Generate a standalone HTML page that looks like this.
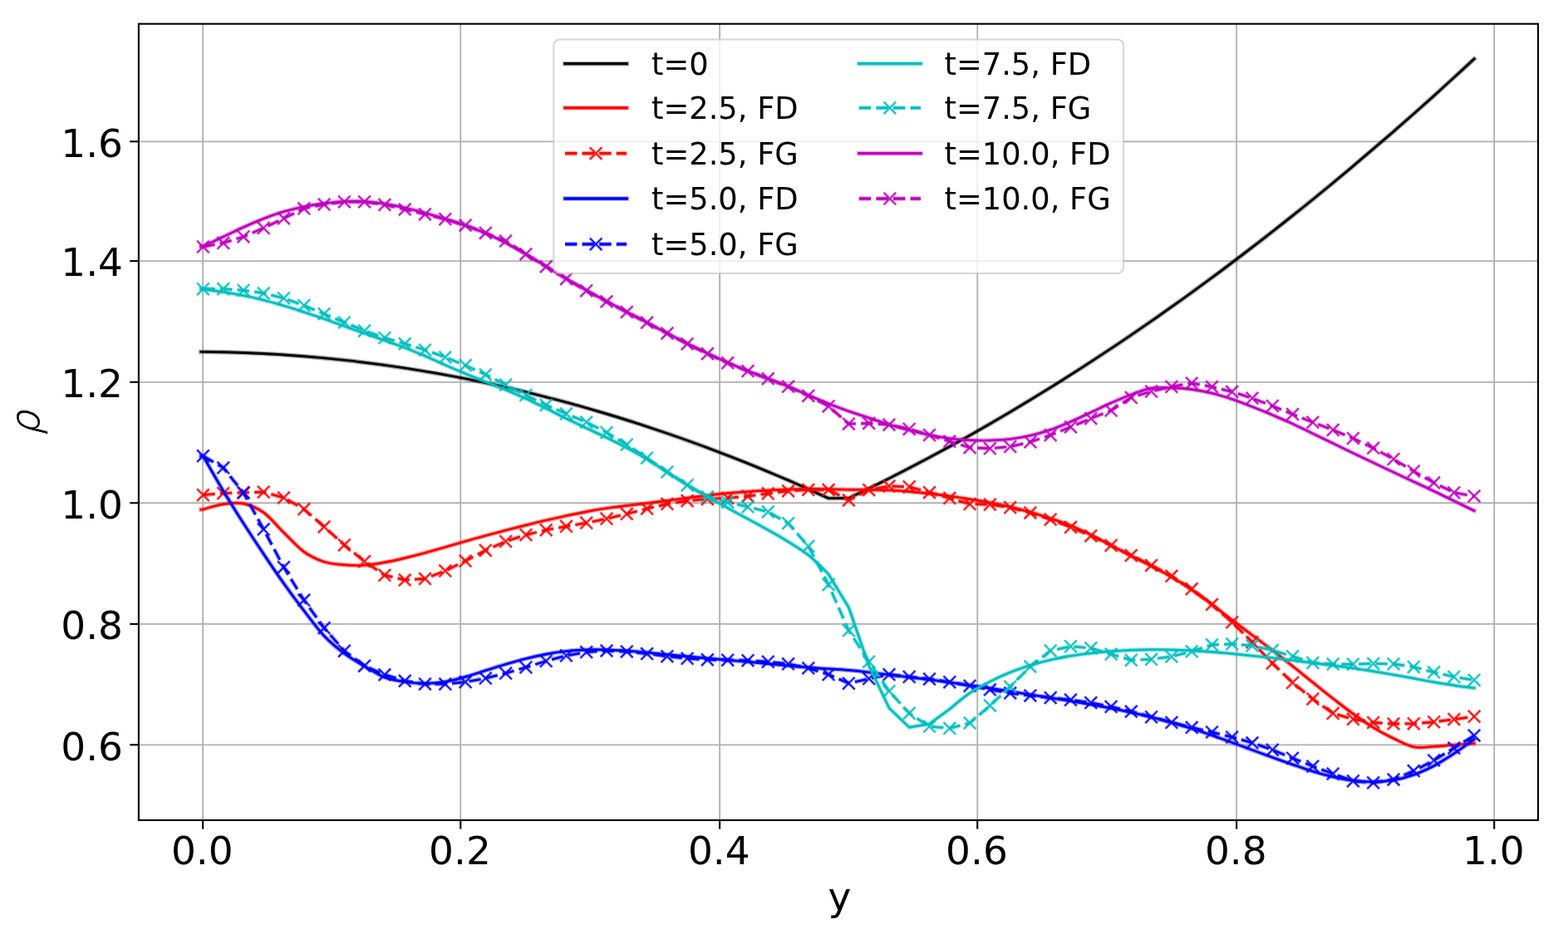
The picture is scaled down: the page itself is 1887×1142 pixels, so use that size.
<!DOCTYPE html>
<html lang="en"><head><meta charset="utf-8"><title>rho vs y</title>
<style>html,body{margin:0;padding:0;background:#fff;}body{width:1887px;height:1142px;overflow:hidden;}svg{display:block;font-family:"DejaVu Sans","Liberation Sans",sans-serif;}</style>
</head><body>
<svg width="1887" height="1142" viewBox="0 0 1887 1142">
<rect x="0" y="0" width="1887" height="1142" fill="#ffffff"/>
<defs>
<g id="mx" fill="none" stroke-linecap="butt"><path d="M-7.30 -7.30 L7.30 7.30 M-7.30 7.30 L7.30 -7.30" stroke-width="3.8" stroke-opacity="0.33"/><path d="M-7.30 -7.30 L7.30 7.30 M-7.30 7.30 L7.30 -7.30" stroke-width="1.6"/></g>
<clipPath id="axclip"><rect x="166.9" y="28.7" width="1684.1" height="958.3"/></clipPath>
</defs>
<g stroke="#b0b0b0" stroke-width="1.8" fill="none">
<line x1="244.12" y1="28.7" x2="244.12" y2="987.0"/>
<line x1="554.25" y1="28.7" x2="554.25" y2="987.0"/>
<line x1="866.12" y1="28.7" x2="866.12" y2="987.0"/>
<line x1="1176.25" y1="28.7" x2="1176.25" y2="987.0"/>
<line x1="1488.12" y1="28.7" x2="1488.12" y2="987.0"/>
<line x1="1798.20" y1="28.7" x2="1798.20" y2="987.0"/>
<line x1="166.9" y1="896.30" x2="1851.0" y2="896.30"/>
<line x1="166.9" y1="750.90" x2="1851.0" y2="750.90"/>
<line x1="166.9" y1="605.25" x2="1851.0" y2="605.25"/>
<line x1="166.9" y1="459.80" x2="1851.0" y2="459.80"/>
<line x1="166.9" y1="314.10" x2="1851.0" y2="314.10"/>
<line x1="166.9" y1="170.30" x2="1851.0" y2="170.30"/>
</g>
<g stroke="#000" stroke-width="2.1" fill="none">
<line x1="244.12" y1="987.0" x2="244.12" y2="997.65"/>
<line x1="554.25" y1="987.0" x2="554.25" y2="997.65"/>
<line x1="866.12" y1="987.0" x2="866.12" y2="997.65"/>
<line x1="1176.25" y1="987.0" x2="1176.25" y2="997.65"/>
<line x1="1488.12" y1="987.0" x2="1488.12" y2="997.65"/>
<line x1="1798.20" y1="987.0" x2="1798.20" y2="997.65"/>
<line x1="156.25" y1="896.30" x2="166.9" y2="896.30"/>
<line x1="156.25" y1="750.90" x2="166.9" y2="750.90"/>
<line x1="156.25" y1="605.25" x2="166.9" y2="605.25"/>
<line x1="156.25" y1="459.80" x2="166.9" y2="459.80"/>
<line x1="156.25" y1="314.10" x2="166.9" y2="314.10"/>
<line x1="156.25" y1="170.30" x2="166.9" y2="170.30"/>
</g>
<g clip-path="url(#axclip)" fill="none" stroke-linejoin="round">
<path d="M241.9 423.4 L244.4 423.4 C244.4 423.4 260.6 423.6 268.7 423.8 C276.8 423.9 284.9 424.2 293.0 424.5 C301.1 424.8 309.1 425.1 317.2 425.5 C325.3 426.0 333.4 426.4 341.5 427.0 C349.6 427.5 357.7 428.1 365.8 428.7 C373.9 429.4 382.0 430.1 390.1 430.9 C398.2 431.6 406.3 432.5 414.4 433.4 C422.5 434.2 430.6 435.2 438.6 436.2 C446.7 437.2 454.8 438.3 462.9 439.4 C471.0 440.5 479.1 441.7 487.2 442.9 C495.3 444.2 503.4 445.5 511.5 446.9 C519.6 448.2 527.7 449.6 535.8 451.1 C543.9 452.6 552.0 454.1 560.1 455.7 C568.1 457.3 576.2 459.0 584.3 460.7 C592.4 462.4 600.5 464.2 608.6 466.0 C616.7 467.9 624.8 469.8 632.9 471.7 C641.0 473.7 649.1 475.7 657.2 477.8 C665.3 479.8 673.4 482.0 681.5 484.2 C689.6 486.3 697.6 488.6 705.7 490.9 C713.8 493.2 721.9 495.6 730.0 498.0 C738.1 500.4 746.2 502.9 754.3 505.5 C762.4 508.0 770.5 510.6 778.6 513.3 C786.7 516.0 794.8 518.7 802.9 521.5 C811.0 524.2 819.1 527.1 827.1 530.0 C835.2 532.9 843.3 535.8 851.4 538.9 C859.5 541.9 867.6 545.0 875.7 548.1 C883.8 551.2 891.9 554.4 900.0 557.7 C908.1 561.0 916.2 564.3 924.3 567.6 C932.4 571.0 940.5 574.5 948.6 577.9 C956.6 581.4 972.8 588.6 972.8 588.6 L997.1 599.6 L1021.4 599.5 L1045.7 587.8 C1045.7 587.8 1061.9 579.8 1070.0 575.7 C1078.1 571.6 1086.2 567.5 1094.2 563.3 C1102.3 559.1 1110.4 554.8 1118.5 550.5 C1126.6 546.2 1134.7 541.8 1142.8 537.4 C1150.9 532.9 1159.0 528.4 1167.1 523.9 C1175.2 519.3 1183.3 514.7 1191.4 510.0 C1199.5 505.3 1207.6 500.6 1215.7 495.8 C1223.7 491.0 1231.8 486.1 1239.9 481.2 C1248.0 476.3 1256.1 471.3 1264.2 466.3 C1272.3 461.3 1280.4 456.2 1288.5 451.0 C1296.6 445.9 1304.7 440.7 1312.8 435.4 C1320.9 430.1 1329.0 424.8 1337.1 419.4 C1345.2 414.0 1353.2 408.6 1361.3 403.1 C1369.4 397.6 1377.5 392.0 1385.6 386.4 C1393.7 380.7 1401.8 375.1 1409.9 369.3 C1418.0 363.6 1426.1 357.8 1434.2 351.9 C1442.3 346.0 1450.4 340.1 1458.5 334.1 C1466.6 328.2 1474.7 322.1 1482.7 316.0 C1490.8 309.9 1498.9 303.8 1507.0 297.5 C1515.1 291.3 1523.2 285.1 1531.3 278.7 C1539.4 272.4 1547.5 266.0 1555.6 259.5 C1563.7 253.1 1571.8 246.6 1579.9 240.0 C1588.0 233.4 1596.1 226.8 1604.2 220.1 C1612.2 213.4 1620.3 206.7 1628.4 199.8 C1636.5 193.0 1644.6 186.2 1652.7 179.2 C1660.8 172.3 1668.9 165.3 1677.0 158.3 C1685.1 151.2 1693.2 144.1 1701.3 137.0 C1709.4 129.8 1717.5 122.6 1725.6 115.3 C1733.7 108.0 1741.7 100.7 1749.8 93.3 C1757.9 85.9 1774.1 70.9 1774.1 70.9" stroke="#000000" stroke-width="5.6" stroke-opacity="0.33" stroke-linecap="square"/>
<path d="M241.9 423.4 L244.4 423.4 C244.4 423.4 260.6 423.6 268.7 423.8 C276.8 423.9 284.9 424.2 293.0 424.5 C301.1 424.8 309.1 425.1 317.2 425.5 C325.3 426.0 333.4 426.4 341.5 427.0 C349.6 427.5 357.7 428.1 365.8 428.7 C373.9 429.4 382.0 430.1 390.1 430.9 C398.2 431.6 406.3 432.5 414.4 433.4 C422.5 434.2 430.6 435.2 438.6 436.2 C446.7 437.2 454.8 438.3 462.9 439.4 C471.0 440.5 479.1 441.7 487.2 442.9 C495.3 444.2 503.4 445.5 511.5 446.9 C519.6 448.2 527.7 449.6 535.8 451.1 C543.9 452.6 552.0 454.1 560.1 455.7 C568.1 457.3 576.2 459.0 584.3 460.7 C592.4 462.4 600.5 464.2 608.6 466.0 C616.7 467.9 624.8 469.8 632.9 471.7 C641.0 473.7 649.1 475.7 657.2 477.8 C665.3 479.8 673.4 482.0 681.5 484.2 C689.6 486.3 697.6 488.6 705.7 490.9 C713.8 493.2 721.9 495.6 730.0 498.0 C738.1 500.4 746.2 502.9 754.3 505.5 C762.4 508.0 770.5 510.6 778.6 513.3 C786.7 516.0 794.8 518.7 802.9 521.5 C811.0 524.2 819.1 527.1 827.1 530.0 C835.2 532.9 843.3 535.8 851.4 538.9 C859.5 541.9 867.6 545.0 875.7 548.1 C883.8 551.2 891.9 554.4 900.0 557.7 C908.1 561.0 916.2 564.3 924.3 567.6 C932.4 571.0 940.5 574.5 948.6 577.9 C956.6 581.4 972.8 588.6 972.8 588.6 L997.1 599.6 L1021.4 599.5 L1045.7 587.8 C1045.7 587.8 1061.9 579.8 1070.0 575.7 C1078.1 571.6 1086.2 567.5 1094.2 563.3 C1102.3 559.1 1110.4 554.8 1118.5 550.5 C1126.6 546.2 1134.7 541.8 1142.8 537.4 C1150.9 532.9 1159.0 528.4 1167.1 523.9 C1175.2 519.3 1183.3 514.7 1191.4 510.0 C1199.5 505.3 1207.6 500.6 1215.7 495.8 C1223.7 491.0 1231.8 486.1 1239.9 481.2 C1248.0 476.3 1256.1 471.3 1264.2 466.3 C1272.3 461.3 1280.4 456.2 1288.5 451.0 C1296.6 445.9 1304.7 440.7 1312.8 435.4 C1320.9 430.1 1329.0 424.8 1337.1 419.4 C1345.2 414.0 1353.2 408.6 1361.3 403.1 C1369.4 397.6 1377.5 392.0 1385.6 386.4 C1393.7 380.7 1401.8 375.1 1409.9 369.3 C1418.0 363.6 1426.1 357.8 1434.2 351.9 C1442.3 346.0 1450.4 340.1 1458.5 334.1 C1466.6 328.2 1474.7 322.1 1482.7 316.0 C1490.8 309.9 1498.9 303.8 1507.0 297.5 C1515.1 291.3 1523.2 285.1 1531.3 278.7 C1539.4 272.4 1547.5 266.0 1555.6 259.5 C1563.7 253.1 1571.8 246.6 1579.9 240.0 C1588.0 233.4 1596.1 226.8 1604.2 220.1 C1612.2 213.4 1620.3 206.7 1628.4 199.8 C1636.5 193.0 1644.6 186.2 1652.7 179.2 C1660.8 172.3 1668.9 165.3 1677.0 158.3 C1685.1 151.2 1693.2 144.1 1701.3 137.0 C1709.4 129.8 1717.5 122.6 1725.6 115.3 C1733.7 108.0 1741.7 100.7 1749.8 93.3 C1757.9 85.9 1774.1 70.9 1774.1 70.9" stroke="#000000" stroke-width="2.9" stroke-linecap="square"/>
<path d="M241.9 613.1 L244.4 613.1 C244.4 613.1 260.6 607.9 268.7 606.7 C276.8 605.6 284.9 604.3 293.0 606.0 C301.1 607.7 309.1 611.0 317.2 616.8 C325.3 622.6 333.4 633.0 341.5 640.9 C349.6 648.8 357.7 658.1 365.8 664.0 C373.9 669.9 382.0 673.5 390.1 676.1 C398.2 678.7 406.3 679.1 414.4 679.8 C422.5 680.4 430.6 680.6 438.6 680.1 C446.7 679.6 454.8 678.3 462.9 676.8 C471.0 675.4 479.1 673.5 487.2 671.5 C495.3 669.6 503.4 667.5 511.5 665.3 C519.6 663.1 527.7 660.7 535.8 658.4 C543.9 656.0 552.0 653.6 560.1 651.3 C568.1 649.0 576.2 646.8 584.3 644.6 C592.4 642.4 600.5 640.2 608.6 638.1 C616.7 636.0 624.8 634.0 632.9 632.0 C641.0 630.0 649.1 628.0 657.2 626.2 C665.3 624.3 673.4 622.5 681.5 620.7 C689.6 619.0 697.6 617.2 705.7 615.7 C713.8 614.2 721.9 612.8 730.0 611.6 C738.1 610.4 746.2 609.5 754.3 608.5 C762.4 607.5 770.5 606.6 778.6 605.6 C786.7 604.6 794.8 603.5 802.9 602.5 C811.0 601.5 819.1 600.4 827.1 599.3 C835.2 598.3 843.3 597.1 851.4 596.2 C859.5 595.2 867.6 594.2 875.7 593.5 C883.8 592.7 891.9 592.1 900.0 591.6 C908.1 591.0 916.2 590.6 924.3 590.1 C932.4 589.7 940.5 589.3 948.6 589.0 C956.6 588.7 964.7 588.5 972.8 588.5 C980.9 588.4 989.0 588.6 997.1 588.7 C1005.2 588.8 1013.3 589.1 1021.4 589.2 C1029.5 589.3 1037.6 589.2 1045.7 589.4 C1053.8 589.5 1061.9 589.5 1070.0 589.9 C1078.1 590.3 1086.2 590.8 1094.2 591.5 C1102.3 592.2 1110.4 593.0 1118.5 594.0 C1126.6 594.9 1134.7 596.0 1142.8 597.1 C1150.9 598.2 1159.0 599.4 1167.1 600.8 C1175.2 602.1 1183.3 603.4 1191.4 605.0 C1199.5 606.6 1207.6 608.2 1215.7 610.1 C1223.7 612.0 1231.8 614.1 1239.9 616.3 C1248.0 618.6 1256.1 621.1 1264.2 623.8 C1272.3 626.5 1280.4 629.2 1288.5 632.5 C1296.6 635.8 1304.7 639.6 1312.8 643.5 C1320.9 647.5 1329.0 652.1 1337.1 656.3 C1345.2 660.5 1353.2 664.7 1361.3 668.9 C1369.4 673.0 1377.5 676.9 1385.6 681.1 C1393.7 685.4 1401.8 689.5 1409.9 694.3 C1418.0 699.0 1426.1 704.2 1434.2 709.7 C1442.3 715.2 1450.4 721.4 1458.5 727.5 C1466.6 733.5 1474.7 739.9 1482.7 746.0 C1490.8 752.1 1498.9 758.2 1507.0 764.3 C1515.1 770.4 1523.2 776.3 1531.3 782.5 C1539.4 788.8 1547.5 795.2 1555.6 801.6 C1563.7 808.0 1571.8 814.7 1579.9 821.2 C1588.0 827.7 1596.1 834.3 1604.2 840.6 C1612.2 846.8 1620.3 853.2 1628.4 859.0 C1636.5 864.8 1644.6 870.5 1652.7 875.4 C1660.8 880.4 1668.9 884.7 1677.0 888.6 C1685.1 892.5 1693.2 897.2 1701.3 898.8 C1709.4 900.5 1717.5 898.8 1725.6 898.4 C1733.7 898.0 1741.7 897.0 1749.8 896.4 C1757.9 895.7 1774.1 894.6 1774.1 894.6" stroke="#ff0000" stroke-width="5.6" stroke-opacity="0.33" stroke-linecap="square"/>
<path d="M241.9 613.1 L244.4 613.1 C244.4 613.1 260.6 607.9 268.7 606.7 C276.8 605.6 284.9 604.3 293.0 606.0 C301.1 607.7 309.1 611.0 317.2 616.8 C325.3 622.6 333.4 633.0 341.5 640.9 C349.6 648.8 357.7 658.1 365.8 664.0 C373.9 669.9 382.0 673.5 390.1 676.1 C398.2 678.7 406.3 679.1 414.4 679.8 C422.5 680.4 430.6 680.6 438.6 680.1 C446.7 679.6 454.8 678.3 462.9 676.8 C471.0 675.4 479.1 673.5 487.2 671.5 C495.3 669.6 503.4 667.5 511.5 665.3 C519.6 663.1 527.7 660.7 535.8 658.4 C543.9 656.0 552.0 653.6 560.1 651.3 C568.1 649.0 576.2 646.8 584.3 644.6 C592.4 642.4 600.5 640.2 608.6 638.1 C616.7 636.0 624.8 634.0 632.9 632.0 C641.0 630.0 649.1 628.0 657.2 626.2 C665.3 624.3 673.4 622.5 681.5 620.7 C689.6 619.0 697.6 617.2 705.7 615.7 C713.8 614.2 721.9 612.8 730.0 611.6 C738.1 610.4 746.2 609.5 754.3 608.5 C762.4 607.5 770.5 606.6 778.6 605.6 C786.7 604.6 794.8 603.5 802.9 602.5 C811.0 601.5 819.1 600.4 827.1 599.3 C835.2 598.3 843.3 597.1 851.4 596.2 C859.5 595.2 867.6 594.2 875.7 593.5 C883.8 592.7 891.9 592.1 900.0 591.6 C908.1 591.0 916.2 590.6 924.3 590.1 C932.4 589.7 940.5 589.3 948.6 589.0 C956.6 588.7 964.7 588.5 972.8 588.5 C980.9 588.4 989.0 588.6 997.1 588.7 C1005.2 588.8 1013.3 589.1 1021.4 589.2 C1029.5 589.3 1037.6 589.2 1045.7 589.4 C1053.8 589.5 1061.9 589.5 1070.0 589.9 C1078.1 590.3 1086.2 590.8 1094.2 591.5 C1102.3 592.2 1110.4 593.0 1118.5 594.0 C1126.6 594.9 1134.7 596.0 1142.8 597.1 C1150.9 598.2 1159.0 599.4 1167.1 600.8 C1175.2 602.1 1183.3 603.4 1191.4 605.0 C1199.5 606.6 1207.6 608.2 1215.7 610.1 C1223.7 612.0 1231.8 614.1 1239.9 616.3 C1248.0 618.6 1256.1 621.1 1264.2 623.8 C1272.3 626.5 1280.4 629.2 1288.5 632.5 C1296.6 635.8 1304.7 639.6 1312.8 643.5 C1320.9 647.5 1329.0 652.1 1337.1 656.3 C1345.2 660.5 1353.2 664.7 1361.3 668.9 C1369.4 673.0 1377.5 676.9 1385.6 681.1 C1393.7 685.4 1401.8 689.5 1409.9 694.3 C1418.0 699.0 1426.1 704.2 1434.2 709.7 C1442.3 715.2 1450.4 721.4 1458.5 727.5 C1466.6 733.5 1474.7 739.9 1482.7 746.0 C1490.8 752.1 1498.9 758.2 1507.0 764.3 C1515.1 770.4 1523.2 776.3 1531.3 782.5 C1539.4 788.8 1547.5 795.2 1555.6 801.6 C1563.7 808.0 1571.8 814.7 1579.9 821.2 C1588.0 827.7 1596.1 834.3 1604.2 840.6 C1612.2 846.8 1620.3 853.2 1628.4 859.0 C1636.5 864.8 1644.6 870.5 1652.7 875.4 C1660.8 880.4 1668.9 884.7 1677.0 888.6 C1685.1 892.5 1693.2 897.2 1701.3 898.8 C1709.4 900.5 1717.5 898.8 1725.6 898.4 C1733.7 898.0 1741.7 897.0 1749.8 896.4 C1757.9 895.7 1774.1 894.6 1774.1 894.6" stroke="#ff0000" stroke-width="2.9" stroke-linecap="square"/>
<path d="M244.4 595.7 L268.7 593.6 L293.0 592.7 L317.2 592.1 L341.5 598.9 L365.8 612.7 L390.1 633.9 L414.4 655.8 L438.6 675.5 L462.9 692.2 L487.2 697.9 L511.5 696.4 L535.8 686.9 L560.1 675.0 L584.3 662.3 L608.6 651.5 L632.9 643.6 L657.2 637.8 L681.5 633.4 L705.7 629.2 L730.0 624.2 L754.3 618.4 L778.6 612.1 L802.9 606.4 L827.1 602.6 L851.4 600.6 L875.7 599.3 L900.0 597.1 L924.3 593.9 L948.6 590.8 L972.8 589.3 L997.1 589.4 L1021.4 601.9 L1045.7 589.6 L1070.0 584.9 L1094.2 585.8 L1118.5 592.6 L1142.8 599.4 L1167.1 606.5 L1191.4 607.1 L1215.7 610.7 L1239.9 617.1 L1264.2 625.1 L1288.5 634.4 L1312.8 644.8 L1337.1 656.3 L1361.3 668.4 L1385.6 680.3 L1409.9 693.2 L1434.2 708.7 L1458.5 727.4 L1482.7 748.8 L1507.0 772.8 L1531.3 798.2 L1555.6 821.5 L1579.9 841.1 L1604.2 858.4 L1628.4 865.4 L1652.7 869.5 L1677.0 871.0 L1701.3 870.8 L1725.6 868.8 L1749.8 865.6 L1774.1 862.2" stroke="#ff0000" stroke-width="5.4" stroke-opacity="0.33" stroke-dasharray="14.4 6.2" stroke-linecap="butt"/>
<path d="M244.4 595.7 L268.7 593.6 L293.0 592.7 L317.2 592.1 L341.5 598.9 L365.8 612.7 L390.1 633.9 L414.4 655.8 L438.6 675.5 L462.9 692.2 L487.2 697.9 L511.5 696.4 L535.8 686.9 L560.1 675.0 L584.3 662.3 L608.6 651.5 L632.9 643.6 L657.2 637.8 L681.5 633.4 L705.7 629.2 L730.0 624.2 L754.3 618.4 L778.6 612.1 L802.9 606.4 L827.1 602.6 L851.4 600.6 L875.7 599.3 L900.0 597.1 L924.3 593.9 L948.6 590.8 L972.8 589.3 L997.1 589.4 L1021.4 601.9 L1045.7 589.6 L1070.0 584.9 L1094.2 585.8 L1118.5 592.6 L1142.8 599.4 L1167.1 606.5 L1191.4 607.1 L1215.7 610.7 L1239.9 617.1 L1264.2 625.1 L1288.5 634.4 L1312.8 644.8 L1337.1 656.3 L1361.3 668.4 L1385.6 680.3 L1409.9 693.2 L1434.2 708.7 L1458.5 727.4 L1482.7 748.8 L1507.0 772.8 L1531.3 798.2 L1555.6 821.5 L1579.9 841.1 L1604.2 858.4 L1628.4 865.4 L1652.7 869.5 L1677.0 871.0 L1701.3 870.8 L1725.6 868.8 L1749.8 865.6 L1774.1 862.2" stroke="#ff0000" stroke-width="2.8" stroke-dasharray="14.4 6.2" stroke-linecap="butt"/>
<g stroke="#ff0000">
<use href="#mx" x="244.4" y="595.7"/>
<use href="#mx" x="268.7" y="593.6"/>
<use href="#mx" x="293.0" y="592.7"/>
<use href="#mx" x="317.2" y="592.1"/>
<use href="#mx" x="341.5" y="598.9"/>
<use href="#mx" x="365.8" y="612.7"/>
<use href="#mx" x="390.1" y="633.9"/>
<use href="#mx" x="414.4" y="655.8"/>
<use href="#mx" x="438.6" y="675.5"/>
<use href="#mx" x="462.9" y="692.2"/>
<use href="#mx" x="487.2" y="697.9"/>
<use href="#mx" x="511.5" y="696.4"/>
<use href="#mx" x="535.8" y="686.9"/>
<use href="#mx" x="560.1" y="675.0"/>
<use href="#mx" x="584.3" y="662.3"/>
<use href="#mx" x="608.6" y="651.5"/>
<use href="#mx" x="632.9" y="643.6"/>
<use href="#mx" x="657.2" y="637.8"/>
<use href="#mx" x="681.5" y="633.4"/>
<use href="#mx" x="705.7" y="629.2"/>
<use href="#mx" x="730.0" y="624.2"/>
<use href="#mx" x="754.3" y="618.4"/>
<use href="#mx" x="778.6" y="612.1"/>
<use href="#mx" x="802.9" y="606.4"/>
<use href="#mx" x="827.1" y="602.6"/>
<use href="#mx" x="851.4" y="600.6"/>
<use href="#mx" x="875.7" y="599.3"/>
<use href="#mx" x="900.0" y="597.1"/>
<use href="#mx" x="924.3" y="593.9"/>
<use href="#mx" x="948.6" y="590.8"/>
<use href="#mx" x="972.8" y="589.3"/>
<use href="#mx" x="997.1" y="589.4"/>
<use href="#mx" x="1021.4" y="601.9"/>
<use href="#mx" x="1045.7" y="589.6"/>
<use href="#mx" x="1070.0" y="584.9"/>
<use href="#mx" x="1094.2" y="585.8"/>
<use href="#mx" x="1118.5" y="592.6"/>
<use href="#mx" x="1142.8" y="599.4"/>
<use href="#mx" x="1167.1" y="606.5"/>
<use href="#mx" x="1191.4" y="607.1"/>
<use href="#mx" x="1215.7" y="610.7"/>
<use href="#mx" x="1239.9" y="617.1"/>
<use href="#mx" x="1264.2" y="625.1"/>
<use href="#mx" x="1288.5" y="634.4"/>
<use href="#mx" x="1312.8" y="644.8"/>
<use href="#mx" x="1337.1" y="656.3"/>
<use href="#mx" x="1361.3" y="668.4"/>
<use href="#mx" x="1385.6" y="680.3"/>
<use href="#mx" x="1409.9" y="693.2"/>
<use href="#mx" x="1434.2" y="708.7"/>
<use href="#mx" x="1458.5" y="727.4"/>
<use href="#mx" x="1482.7" y="748.8"/>
<use href="#mx" x="1507.0" y="772.8"/>
<use href="#mx" x="1531.3" y="798.2"/>
<use href="#mx" x="1555.6" y="821.5"/>
<use href="#mx" x="1579.9" y="841.1"/>
<use href="#mx" x="1604.2" y="858.4"/>
<use href="#mx" x="1628.4" y="865.4"/>
<use href="#mx" x="1652.7" y="869.5"/>
<use href="#mx" x="1677.0" y="871.0"/>
<use href="#mx" x="1701.3" y="870.8"/>
<use href="#mx" x="1725.6" y="868.8"/>
<use href="#mx" x="1749.8" y="865.6"/>
<use href="#mx" x="1774.1" y="862.2"/>
</g>
<path d="M241.9 548.7 L244.4 548.7 C244.4 548.7 260.6 577.2 268.7 590.7 C276.8 604.2 284.9 617.1 293.0 629.8 C301.1 642.4 309.1 654.5 317.2 666.6 C325.3 678.7 333.4 690.7 341.5 702.1 C349.6 713.5 357.7 724.4 365.8 734.9 C373.9 745.4 382.0 756.7 390.1 765.3 C398.2 773.8 406.3 780.4 414.4 786.4 C422.5 792.5 430.6 796.8 438.6 801.6 C446.7 806.3 454.8 811.9 462.9 815.1 C471.0 818.2 479.1 819.1 487.2 820.4 C495.3 821.6 503.4 822.5 511.5 822.5 C519.6 822.5 527.7 821.7 535.8 820.4 C543.9 819.0 552.0 816.8 560.1 814.5 C568.1 812.3 576.2 809.4 584.3 806.9 C592.4 804.3 600.5 801.7 608.6 799.3 C616.7 796.9 624.8 794.6 632.9 792.6 C641.0 790.5 649.1 788.7 657.2 787.2 C665.3 785.7 673.4 784.5 681.5 783.6 C689.6 782.7 697.6 782.2 705.7 782.0 C713.8 781.7 721.9 781.8 730.0 782.0 C738.1 782.2 746.2 782.7 754.3 783.2 C762.4 783.8 770.5 784.6 778.6 785.3 C786.7 786.1 794.8 786.9 802.9 787.7 C811.0 788.5 819.1 789.3 827.1 790.0 C835.2 790.8 843.3 791.5 851.4 792.2 C859.5 792.9 867.6 793.6 875.7 794.3 C883.8 795.0 891.9 795.7 900.0 796.4 C908.1 797.2 916.2 797.9 924.3 798.7 C932.4 799.4 940.5 800.2 948.6 801.0 C956.6 801.8 964.7 802.6 972.8 803.2 C980.9 803.9 989.0 804.4 997.1 804.9 C1005.2 805.5 1013.3 805.8 1021.4 806.5 C1029.5 807.2 1037.6 808.1 1045.7 809.1 C1053.8 810.0 1061.9 811.1 1070.0 812.1 C1078.1 813.0 1086.2 813.9 1094.2 814.9 C1102.3 815.8 1110.4 816.8 1118.5 817.8 C1126.6 818.9 1134.7 820.0 1142.8 821.1 C1150.9 822.3 1159.0 823.4 1167.1 824.6 C1175.2 825.8 1183.3 826.9 1191.4 828.2 C1199.5 829.4 1207.6 830.7 1215.7 832.0 C1223.7 833.3 1231.8 834.6 1239.9 835.9 C1248.0 837.2 1256.1 838.5 1264.2 839.7 C1272.3 841.0 1280.4 842.3 1288.5 843.6 C1296.6 844.9 1304.7 846.3 1312.8 847.7 C1320.9 849.2 1329.0 850.7 1337.1 852.2 C1345.2 853.8 1353.2 855.5 1361.3 857.3 C1369.4 859.1 1377.5 860.9 1385.6 862.9 C1393.7 864.9 1401.8 867.1 1409.9 869.4 C1418.0 871.7 1426.1 874.2 1434.2 876.7 C1442.3 879.3 1450.4 882.1 1458.5 884.9 C1466.6 887.7 1474.7 890.6 1482.7 893.5 C1490.8 896.5 1498.9 899.5 1507.0 902.5 C1515.1 905.5 1523.2 908.5 1531.3 911.4 C1539.4 914.3 1547.5 917.3 1555.6 920.0 C1563.7 922.8 1571.8 925.7 1579.9 928.2 C1588.0 930.6 1596.1 933.1 1604.2 934.9 C1612.2 936.8 1620.3 938.4 1628.4 939.4 C1636.5 940.4 1644.6 941.0 1652.7 940.9 C1660.8 940.8 1668.9 940.1 1677.0 938.7 C1685.1 937.3 1693.2 935.2 1701.3 932.3 C1709.4 929.5 1717.5 925.8 1725.6 921.6 C1733.7 917.3 1741.7 912.1 1749.8 906.8 C1757.9 901.5 1774.1 889.7 1774.1 889.7" stroke="#0000ff" stroke-width="5.6" stroke-opacity="0.33" stroke-linecap="square"/>
<path d="M241.9 548.7 L244.4 548.7 C244.4 548.7 260.6 577.2 268.7 590.7 C276.8 604.2 284.9 617.1 293.0 629.8 C301.1 642.4 309.1 654.5 317.2 666.6 C325.3 678.7 333.4 690.7 341.5 702.1 C349.6 713.5 357.7 724.4 365.8 734.9 C373.9 745.4 382.0 756.7 390.1 765.3 C398.2 773.8 406.3 780.4 414.4 786.4 C422.5 792.5 430.6 796.8 438.6 801.6 C446.7 806.3 454.8 811.9 462.9 815.1 C471.0 818.2 479.1 819.1 487.2 820.4 C495.3 821.6 503.4 822.5 511.5 822.5 C519.6 822.5 527.7 821.7 535.8 820.4 C543.9 819.0 552.0 816.8 560.1 814.5 C568.1 812.3 576.2 809.4 584.3 806.9 C592.4 804.3 600.5 801.7 608.6 799.3 C616.7 796.9 624.8 794.6 632.9 792.6 C641.0 790.5 649.1 788.7 657.2 787.2 C665.3 785.7 673.4 784.5 681.5 783.6 C689.6 782.7 697.6 782.2 705.7 782.0 C713.8 781.7 721.9 781.8 730.0 782.0 C738.1 782.2 746.2 782.7 754.3 783.2 C762.4 783.8 770.5 784.6 778.6 785.3 C786.7 786.1 794.8 786.9 802.9 787.7 C811.0 788.5 819.1 789.3 827.1 790.0 C835.2 790.8 843.3 791.5 851.4 792.2 C859.5 792.9 867.6 793.6 875.7 794.3 C883.8 795.0 891.9 795.7 900.0 796.4 C908.1 797.2 916.2 797.9 924.3 798.7 C932.4 799.4 940.5 800.2 948.6 801.0 C956.6 801.8 964.7 802.6 972.8 803.2 C980.9 803.9 989.0 804.4 997.1 804.9 C1005.2 805.5 1013.3 805.8 1021.4 806.5 C1029.5 807.2 1037.6 808.1 1045.7 809.1 C1053.8 810.0 1061.9 811.1 1070.0 812.1 C1078.1 813.0 1086.2 813.9 1094.2 814.9 C1102.3 815.8 1110.4 816.8 1118.5 817.8 C1126.6 818.9 1134.7 820.0 1142.8 821.1 C1150.9 822.3 1159.0 823.4 1167.1 824.6 C1175.2 825.8 1183.3 826.9 1191.4 828.2 C1199.5 829.4 1207.6 830.7 1215.7 832.0 C1223.7 833.3 1231.8 834.6 1239.9 835.9 C1248.0 837.2 1256.1 838.5 1264.2 839.7 C1272.3 841.0 1280.4 842.3 1288.5 843.6 C1296.6 844.9 1304.7 846.3 1312.8 847.7 C1320.9 849.2 1329.0 850.7 1337.1 852.2 C1345.2 853.8 1353.2 855.5 1361.3 857.3 C1369.4 859.1 1377.5 860.9 1385.6 862.9 C1393.7 864.9 1401.8 867.1 1409.9 869.4 C1418.0 871.7 1426.1 874.2 1434.2 876.7 C1442.3 879.3 1450.4 882.1 1458.5 884.9 C1466.6 887.7 1474.7 890.6 1482.7 893.5 C1490.8 896.5 1498.9 899.5 1507.0 902.5 C1515.1 905.5 1523.2 908.5 1531.3 911.4 C1539.4 914.3 1547.5 917.3 1555.6 920.0 C1563.7 922.8 1571.8 925.7 1579.9 928.2 C1588.0 930.6 1596.1 933.1 1604.2 934.9 C1612.2 936.8 1620.3 938.4 1628.4 939.4 C1636.5 940.4 1644.6 941.0 1652.7 940.9 C1660.8 940.8 1668.9 940.1 1677.0 938.7 C1685.1 937.3 1693.2 935.2 1701.3 932.3 C1709.4 929.5 1717.5 925.8 1725.6 921.6 C1733.7 917.3 1741.7 912.1 1749.8 906.8 C1757.9 901.5 1774.1 889.7 1774.1 889.7" stroke="#0000ff" stroke-width="2.9" stroke-linecap="square"/>
<path d="M244.4 548.7 L268.7 562.9 L293.0 593.0 L317.2 636.9 L341.5 682.6 L365.8 722.2 L390.1 755.7 L414.4 783.3 L438.6 801.3 L462.9 811.9 L487.2 819.4 L511.5 823.1 L535.8 823.2 L560.1 820.7 L584.3 816.2 L608.6 810.2 L632.9 803.0 L657.2 795.5 L681.5 789.0 L705.7 784.7 L730.0 783.1 L754.3 784.1 L778.6 786.7 L802.9 789.8 L827.1 792.4 L851.4 793.9 L875.7 794.3 L900.0 794.8 L924.3 796.3 L948.6 798.9 L972.8 804.0 L997.1 811.7 L1021.4 822.3 L1045.7 816.7 L1070.0 811.7 L1094.2 814.5 L1118.5 817.1 L1142.8 820.8 L1167.1 825.3 L1191.4 829.9 L1215.7 834.0 L1239.9 837.1 L1264.2 839.6 L1288.5 842.2 L1312.8 845.7 L1337.1 850.4 L1361.3 856.2 L1385.6 862.8 L1409.9 869.4 L1434.2 875.4 L1458.5 881.0 L1482.7 887.0 L1507.0 893.9 L1531.3 902.3 L1555.6 912.3 L1579.9 922.1 L1604.2 931.1 L1628.4 939.8 L1652.7 941.9 L1677.0 938.1 L1701.3 927.7 L1725.6 915.0 L1749.8 900.2 L1774.1 885.1" stroke="#0000ff" stroke-width="5.4" stroke-opacity="0.33" stroke-dasharray="14.4 6.2" stroke-linecap="butt"/>
<path d="M244.4 548.7 L268.7 562.9 L293.0 593.0 L317.2 636.9 L341.5 682.6 L365.8 722.2 L390.1 755.7 L414.4 783.3 L438.6 801.3 L462.9 811.9 L487.2 819.4 L511.5 823.1 L535.8 823.2 L560.1 820.7 L584.3 816.2 L608.6 810.2 L632.9 803.0 L657.2 795.5 L681.5 789.0 L705.7 784.7 L730.0 783.1 L754.3 784.1 L778.6 786.7 L802.9 789.8 L827.1 792.4 L851.4 793.9 L875.7 794.3 L900.0 794.8 L924.3 796.3 L948.6 798.9 L972.8 804.0 L997.1 811.7 L1021.4 822.3 L1045.7 816.7 L1070.0 811.7 L1094.2 814.5 L1118.5 817.1 L1142.8 820.8 L1167.1 825.3 L1191.4 829.9 L1215.7 834.0 L1239.9 837.1 L1264.2 839.6 L1288.5 842.2 L1312.8 845.7 L1337.1 850.4 L1361.3 856.2 L1385.6 862.8 L1409.9 869.4 L1434.2 875.4 L1458.5 881.0 L1482.7 887.0 L1507.0 893.9 L1531.3 902.3 L1555.6 912.3 L1579.9 922.1 L1604.2 931.1 L1628.4 939.8 L1652.7 941.9 L1677.0 938.1 L1701.3 927.7 L1725.6 915.0 L1749.8 900.2 L1774.1 885.1" stroke="#0000ff" stroke-width="2.8" stroke-dasharray="14.4 6.2" stroke-linecap="butt"/>
<g stroke="#0000ff">
<use href="#mx" x="244.4" y="548.7"/>
<use href="#mx" x="268.7" y="562.9"/>
<use href="#mx" x="293.0" y="593.0"/>
<use href="#mx" x="317.2" y="636.9"/>
<use href="#mx" x="341.5" y="682.6"/>
<use href="#mx" x="365.8" y="722.2"/>
<use href="#mx" x="390.1" y="755.7"/>
<use href="#mx" x="414.4" y="783.3"/>
<use href="#mx" x="438.6" y="801.3"/>
<use href="#mx" x="462.9" y="811.9"/>
<use href="#mx" x="487.2" y="819.4"/>
<use href="#mx" x="511.5" y="823.1"/>
<use href="#mx" x="535.8" y="823.2"/>
<use href="#mx" x="560.1" y="820.7"/>
<use href="#mx" x="584.3" y="816.2"/>
<use href="#mx" x="608.6" y="810.2"/>
<use href="#mx" x="632.9" y="803.0"/>
<use href="#mx" x="657.2" y="795.5"/>
<use href="#mx" x="681.5" y="789.0"/>
<use href="#mx" x="705.7" y="784.7"/>
<use href="#mx" x="730.0" y="783.1"/>
<use href="#mx" x="754.3" y="784.1"/>
<use href="#mx" x="778.6" y="786.7"/>
<use href="#mx" x="802.9" y="789.8"/>
<use href="#mx" x="827.1" y="792.4"/>
<use href="#mx" x="851.4" y="793.9"/>
<use href="#mx" x="875.7" y="794.3"/>
<use href="#mx" x="900.0" y="794.8"/>
<use href="#mx" x="924.3" y="796.3"/>
<use href="#mx" x="948.6" y="798.9"/>
<use href="#mx" x="972.8" y="804.0"/>
<use href="#mx" x="997.1" y="811.7"/>
<use href="#mx" x="1021.4" y="822.3"/>
<use href="#mx" x="1045.7" y="816.7"/>
<use href="#mx" x="1070.0" y="811.7"/>
<use href="#mx" x="1094.2" y="814.5"/>
<use href="#mx" x="1118.5" y="817.1"/>
<use href="#mx" x="1142.8" y="820.8"/>
<use href="#mx" x="1167.1" y="825.3"/>
<use href="#mx" x="1191.4" y="829.9"/>
<use href="#mx" x="1215.7" y="834.0"/>
<use href="#mx" x="1239.9" y="837.1"/>
<use href="#mx" x="1264.2" y="839.6"/>
<use href="#mx" x="1288.5" y="842.2"/>
<use href="#mx" x="1312.8" y="845.7"/>
<use href="#mx" x="1337.1" y="850.4"/>
<use href="#mx" x="1361.3" y="856.2"/>
<use href="#mx" x="1385.6" y="862.8"/>
<use href="#mx" x="1409.9" y="869.4"/>
<use href="#mx" x="1434.2" y="875.4"/>
<use href="#mx" x="1458.5" y="881.0"/>
<use href="#mx" x="1482.7" y="887.0"/>
<use href="#mx" x="1507.0" y="893.9"/>
<use href="#mx" x="1531.3" y="902.3"/>
<use href="#mx" x="1555.6" y="912.3"/>
<use href="#mx" x="1579.9" y="922.1"/>
<use href="#mx" x="1604.2" y="931.1"/>
<use href="#mx" x="1628.4" y="939.8"/>
<use href="#mx" x="1652.7" y="941.9"/>
<use href="#mx" x="1677.0" y="938.1"/>
<use href="#mx" x="1701.3" y="927.7"/>
<use href="#mx" x="1725.6" y="915.0"/>
<use href="#mx" x="1749.8" y="900.2"/>
<use href="#mx" x="1774.1" y="885.1"/>
</g>
<path d="M241.9 347.8 L244.4 347.8 C244.4 347.8 260.6 350.1 268.7 351.4 C276.8 352.7 284.9 354.1 293.0 355.7 C301.1 357.3 309.1 359.1 317.2 361.2 C325.3 363.2 333.4 365.6 341.5 367.9 C349.6 370.3 357.7 372.9 365.8 375.5 C373.9 378.2 382.0 380.9 390.1 383.7 C398.2 386.6 406.3 389.6 414.4 392.5 C422.5 395.5 430.6 398.4 438.6 401.2 C446.7 404.1 454.8 406.8 462.9 409.7 C471.0 412.6 479.1 415.4 487.2 418.5 C495.3 421.6 503.4 425.0 511.5 428.4 C519.6 431.8 527.7 435.6 535.8 439.2 C543.9 442.8 552.0 446.3 560.1 449.7 C568.1 453.1 576.2 456.3 584.3 459.5 C592.4 462.7 600.5 465.8 608.6 469.1 C616.7 472.5 624.8 475.9 632.9 479.6 C641.0 483.4 649.1 487.5 657.2 491.5 C665.3 495.5 673.4 499.7 681.5 503.6 C689.6 507.6 697.6 511.3 705.7 515.1 C713.8 519.0 721.9 522.7 730.0 526.6 C738.1 530.6 746.2 534.5 754.3 538.9 C762.4 543.2 770.5 547.8 778.6 552.6 C786.7 557.5 794.8 562.9 802.9 568.0 C811.0 573.1 819.1 578.5 827.1 583.5 C835.2 588.5 843.3 593.2 851.4 597.8 C859.5 602.5 867.6 606.8 875.7 611.3 C883.8 615.7 891.9 620.1 900.0 624.5 C908.1 628.9 916.2 633.2 924.3 637.8 C932.4 642.3 940.5 646.9 948.6 651.9 C956.6 656.9 964.7 661.4 972.8 667.9 C980.9 674.4 997.1 690.9 997.1 690.9 L1021.4 731.1 L1045.7 801.1 L1070.0 852.0 L1094.2 875.3 L1118.5 871.1 L1142.8 853.3 C1142.8 853.3 1159.0 839.5 1167.1 834.0 C1175.2 828.4 1183.3 824.3 1191.4 820.2 C1199.5 816.0 1207.6 812.3 1215.7 809.1 C1223.7 805.8 1231.8 803.1 1239.9 800.6 C1248.0 798.1 1256.1 795.9 1264.2 794.1 C1272.3 792.2 1280.4 790.6 1288.5 789.3 C1296.6 788.0 1304.7 787.0 1312.8 786.1 C1320.9 785.1 1329.0 784.4 1337.1 783.8 C1345.2 783.2 1353.2 782.7 1361.3 782.3 C1369.4 782.0 1377.5 781.8 1385.6 781.8 C1393.7 781.7 1401.8 781.8 1409.9 782.0 C1418.0 782.2 1426.1 782.5 1434.2 782.9 C1442.3 783.4 1450.4 783.9 1458.5 784.5 C1466.6 785.1 1474.7 785.9 1482.7 786.6 C1490.8 787.4 1498.9 788.3 1507.0 789.1 C1515.1 790.0 1523.2 790.9 1531.3 791.8 C1539.4 792.8 1547.5 793.7 1555.6 794.6 C1563.7 795.6 1571.8 796.6 1579.9 797.7 C1588.0 798.7 1596.1 799.8 1604.2 800.8 C1612.2 801.9 1620.3 803.0 1628.4 804.1 C1636.5 805.3 1644.6 806.5 1652.7 807.8 C1660.8 809.2 1668.9 810.6 1677.0 812.0 C1685.1 813.4 1693.2 814.9 1701.3 816.3 C1709.4 817.8 1717.5 819.4 1725.6 820.8 C1733.7 822.2 1741.7 823.6 1749.8 824.7 C1757.9 825.9 1774.1 827.9 1774.1 827.9" stroke="#00bfbf" stroke-width="5.6" stroke-opacity="0.33" stroke-linecap="square"/>
<path d="M241.9 347.8 L244.4 347.8 C244.4 347.8 260.6 350.1 268.7 351.4 C276.8 352.7 284.9 354.1 293.0 355.7 C301.1 357.3 309.1 359.1 317.2 361.2 C325.3 363.2 333.4 365.6 341.5 367.9 C349.6 370.3 357.7 372.9 365.8 375.5 C373.9 378.2 382.0 380.9 390.1 383.7 C398.2 386.6 406.3 389.6 414.4 392.5 C422.5 395.5 430.6 398.4 438.6 401.2 C446.7 404.1 454.8 406.8 462.9 409.7 C471.0 412.6 479.1 415.4 487.2 418.5 C495.3 421.6 503.4 425.0 511.5 428.4 C519.6 431.8 527.7 435.6 535.8 439.2 C543.9 442.8 552.0 446.3 560.1 449.7 C568.1 453.1 576.2 456.3 584.3 459.5 C592.4 462.7 600.5 465.8 608.6 469.1 C616.7 472.5 624.8 475.9 632.9 479.6 C641.0 483.4 649.1 487.5 657.2 491.5 C665.3 495.5 673.4 499.7 681.5 503.6 C689.6 507.6 697.6 511.3 705.7 515.1 C713.8 519.0 721.9 522.7 730.0 526.6 C738.1 530.6 746.2 534.5 754.3 538.9 C762.4 543.2 770.5 547.8 778.6 552.6 C786.7 557.5 794.8 562.9 802.9 568.0 C811.0 573.1 819.1 578.5 827.1 583.5 C835.2 588.5 843.3 593.2 851.4 597.8 C859.5 602.5 867.6 606.8 875.7 611.3 C883.8 615.7 891.9 620.1 900.0 624.5 C908.1 628.9 916.2 633.2 924.3 637.8 C932.4 642.3 940.5 646.9 948.6 651.9 C956.6 656.9 964.7 661.4 972.8 667.9 C980.9 674.4 997.1 690.9 997.1 690.9 L1021.4 731.1 L1045.7 801.1 L1070.0 852.0 L1094.2 875.3 L1118.5 871.1 L1142.8 853.3 C1142.8 853.3 1159.0 839.5 1167.1 834.0 C1175.2 828.4 1183.3 824.3 1191.4 820.2 C1199.5 816.0 1207.6 812.3 1215.7 809.1 C1223.7 805.8 1231.8 803.1 1239.9 800.6 C1248.0 798.1 1256.1 795.9 1264.2 794.1 C1272.3 792.2 1280.4 790.6 1288.5 789.3 C1296.6 788.0 1304.7 787.0 1312.8 786.1 C1320.9 785.1 1329.0 784.4 1337.1 783.8 C1345.2 783.2 1353.2 782.7 1361.3 782.3 C1369.4 782.0 1377.5 781.8 1385.6 781.8 C1393.7 781.7 1401.8 781.8 1409.9 782.0 C1418.0 782.2 1426.1 782.5 1434.2 782.9 C1442.3 783.4 1450.4 783.9 1458.5 784.5 C1466.6 785.1 1474.7 785.9 1482.7 786.6 C1490.8 787.4 1498.9 788.3 1507.0 789.1 C1515.1 790.0 1523.2 790.9 1531.3 791.8 C1539.4 792.8 1547.5 793.7 1555.6 794.6 C1563.7 795.6 1571.8 796.6 1579.9 797.7 C1588.0 798.7 1596.1 799.8 1604.2 800.8 C1612.2 801.9 1620.3 803.0 1628.4 804.1 C1636.5 805.3 1644.6 806.5 1652.7 807.8 C1660.8 809.2 1668.9 810.6 1677.0 812.0 C1685.1 813.4 1693.2 814.9 1701.3 816.3 C1709.4 817.8 1717.5 819.4 1725.6 820.8 C1733.7 822.2 1741.7 823.6 1749.8 824.7 C1757.9 825.9 1774.1 827.9 1774.1 827.9" stroke="#00bfbf" stroke-width="2.9" stroke-linecap="square"/>
<path d="M244.4 347.8 L268.7 347.7 L293.0 349.3 L317.2 352.9 L341.5 358.8 L365.8 367.6 L390.1 377.7 L414.4 388.0 L438.6 398.1 L462.9 406.5 L487.2 413.7 L511.5 421.1 L535.8 429.9 L560.1 439.7 L584.3 450.8 L608.6 463.1 L632.9 475.5 L657.2 487.5 L681.5 497.9 L705.7 508.0 L730.0 520.5 L754.3 535.1 L778.6 551.1 L802.9 568.0 L827.1 583.8 L851.4 597.9 L875.7 604.3 L900.0 610.0 L924.3 615.9 L948.6 629.7 L972.8 657.3 L997.1 703.6 L1021.4 758.7 L1045.7 796.3 L1070.0 831.8 L1094.2 858.3 L1118.5 874.2 L1142.8 876.4 L1167.1 870.0 L1191.4 849.1 L1215.7 826.3 L1239.9 802.2 L1264.2 783.1 L1288.5 777.8 L1312.8 779.9 L1337.1 787.2 L1361.3 794.3 L1385.6 793.4 L1409.9 790.1 L1434.2 783.9 L1458.5 775.9 L1482.7 774.9 L1507.0 777.0 L1531.3 782.6 L1555.6 789.8 L1579.9 797.6 L1604.2 799.2 L1628.4 799.3 L1652.7 798.6 L1677.0 799.0 L1701.3 802.6 L1725.6 808.9 L1749.8 814.5 L1774.1 818.3" stroke="#00bfbf" stroke-width="5.4" stroke-opacity="0.33" stroke-dasharray="14.4 6.2" stroke-linecap="butt"/>
<path d="M244.4 347.8 L268.7 347.7 L293.0 349.3 L317.2 352.9 L341.5 358.8 L365.8 367.6 L390.1 377.7 L414.4 388.0 L438.6 398.1 L462.9 406.5 L487.2 413.7 L511.5 421.1 L535.8 429.9 L560.1 439.7 L584.3 450.8 L608.6 463.1 L632.9 475.5 L657.2 487.5 L681.5 497.9 L705.7 508.0 L730.0 520.5 L754.3 535.1 L778.6 551.1 L802.9 568.0 L827.1 583.8 L851.4 597.9 L875.7 604.3 L900.0 610.0 L924.3 615.9 L948.6 629.7 L972.8 657.3 L997.1 703.6 L1021.4 758.7 L1045.7 796.3 L1070.0 831.8 L1094.2 858.3 L1118.5 874.2 L1142.8 876.4 L1167.1 870.0 L1191.4 849.1 L1215.7 826.3 L1239.9 802.2 L1264.2 783.1 L1288.5 777.8 L1312.8 779.9 L1337.1 787.2 L1361.3 794.3 L1385.6 793.4 L1409.9 790.1 L1434.2 783.9 L1458.5 775.9 L1482.7 774.9 L1507.0 777.0 L1531.3 782.6 L1555.6 789.8 L1579.9 797.6 L1604.2 799.2 L1628.4 799.3 L1652.7 798.6 L1677.0 799.0 L1701.3 802.6 L1725.6 808.9 L1749.8 814.5 L1774.1 818.3" stroke="#00bfbf" stroke-width="2.8" stroke-dasharray="14.4 6.2" stroke-linecap="butt"/>
<g stroke="#00bfbf">
<use href="#mx" x="244.4" y="347.8"/>
<use href="#mx" x="268.7" y="347.7"/>
<use href="#mx" x="293.0" y="349.3"/>
<use href="#mx" x="317.2" y="352.9"/>
<use href="#mx" x="341.5" y="358.8"/>
<use href="#mx" x="365.8" y="367.6"/>
<use href="#mx" x="390.1" y="377.7"/>
<use href="#mx" x="414.4" y="388.0"/>
<use href="#mx" x="438.6" y="398.1"/>
<use href="#mx" x="462.9" y="406.5"/>
<use href="#mx" x="487.2" y="413.7"/>
<use href="#mx" x="511.5" y="421.1"/>
<use href="#mx" x="535.8" y="429.9"/>
<use href="#mx" x="560.1" y="439.7"/>
<use href="#mx" x="584.3" y="450.8"/>
<use href="#mx" x="608.6" y="463.1"/>
<use href="#mx" x="632.9" y="475.5"/>
<use href="#mx" x="657.2" y="487.5"/>
<use href="#mx" x="681.5" y="497.9"/>
<use href="#mx" x="705.7" y="508.0"/>
<use href="#mx" x="730.0" y="520.5"/>
<use href="#mx" x="754.3" y="535.1"/>
<use href="#mx" x="778.6" y="551.1"/>
<use href="#mx" x="802.9" y="568.0"/>
<use href="#mx" x="827.1" y="583.8"/>
<use href="#mx" x="851.4" y="597.9"/>
<use href="#mx" x="875.7" y="604.3"/>
<use href="#mx" x="900.0" y="610.0"/>
<use href="#mx" x="924.3" y="615.9"/>
<use href="#mx" x="948.6" y="629.7"/>
<use href="#mx" x="972.8" y="657.3"/>
<use href="#mx" x="997.1" y="703.6"/>
<use href="#mx" x="1021.4" y="758.7"/>
<use href="#mx" x="1045.7" y="796.3"/>
<use href="#mx" x="1070.0" y="831.8"/>
<use href="#mx" x="1094.2" y="858.3"/>
<use href="#mx" x="1118.5" y="874.2"/>
<use href="#mx" x="1142.8" y="876.4"/>
<use href="#mx" x="1167.1" y="870.0"/>
<use href="#mx" x="1191.4" y="849.1"/>
<use href="#mx" x="1215.7" y="826.3"/>
<use href="#mx" x="1239.9" y="802.2"/>
<use href="#mx" x="1264.2" y="783.1"/>
<use href="#mx" x="1288.5" y="777.8"/>
<use href="#mx" x="1312.8" y="779.9"/>
<use href="#mx" x="1337.1" y="787.2"/>
<use href="#mx" x="1361.3" y="794.3"/>
<use href="#mx" x="1385.6" y="793.4"/>
<use href="#mx" x="1409.9" y="790.1"/>
<use href="#mx" x="1434.2" y="783.9"/>
<use href="#mx" x="1458.5" y="775.9"/>
<use href="#mx" x="1482.7" y="774.9"/>
<use href="#mx" x="1507.0" y="777.0"/>
<use href="#mx" x="1531.3" y="782.6"/>
<use href="#mx" x="1555.6" y="789.8"/>
<use href="#mx" x="1579.9" y="797.6"/>
<use href="#mx" x="1604.2" y="799.2"/>
<use href="#mx" x="1628.4" y="799.3"/>
<use href="#mx" x="1652.7" y="798.6"/>
<use href="#mx" x="1677.0" y="799.0"/>
<use href="#mx" x="1701.3" y="802.6"/>
<use href="#mx" x="1725.6" y="808.9"/>
<use href="#mx" x="1749.8" y="814.5"/>
<use href="#mx" x="1774.1" y="818.3"/>
</g>
<path d="M241.9 296.5 L244.4 296.5 C244.4 296.5 260.6 288.7 268.7 284.9 C276.8 281.1 284.9 277.1 293.0 273.4 C301.1 269.8 309.1 266.2 317.2 263.1 C325.3 259.9 333.4 257.1 341.5 254.7 C349.6 252.3 357.7 250.4 365.8 248.8 C373.9 247.1 382.0 245.9 390.1 244.8 C398.2 243.8 406.3 243.0 414.4 242.6 C422.5 242.3 430.6 242.2 438.6 242.6 C446.7 243.1 454.8 244.1 462.9 245.3 C471.0 246.6 479.1 248.3 487.2 250.1 C495.3 251.9 503.4 254.1 511.5 256.3 C519.6 258.5 527.7 260.9 535.8 263.5 C543.9 266.0 552.0 268.5 560.1 271.4 C568.1 274.3 576.2 277.2 584.3 280.7 C592.4 284.1 600.5 288.0 608.6 292.2 C616.7 296.5 624.8 301.3 632.9 306.1 C641.0 310.8 649.1 315.8 657.2 320.6 C665.3 325.5 673.4 330.4 681.5 335.2 C689.6 340.0 697.6 344.8 705.7 349.3 C713.8 353.9 721.9 358.2 730.0 362.6 C738.1 366.9 746.2 371.1 754.3 375.4 C762.4 379.7 770.5 383.9 778.6 388.2 C786.7 392.5 794.8 396.8 802.9 401.0 C811.0 405.2 819.1 409.4 827.1 413.4 C835.2 417.5 843.3 421.5 851.4 425.3 C859.5 429.1 867.6 432.9 875.7 436.4 C883.8 439.9 891.9 443.2 900.0 446.4 C908.1 449.6 916.2 452.6 924.3 455.7 C932.4 458.8 940.5 461.8 948.6 465.1 C956.6 468.4 964.7 472.0 972.8 475.5 C980.9 479.0 989.0 482.6 997.1 485.9 C1005.2 489.1 1013.3 491.9 1021.4 494.8 C1029.5 497.6 1037.6 500.3 1045.7 503.0 C1053.8 505.7 1061.9 508.4 1070.0 510.8 C1078.1 513.3 1086.2 515.6 1094.2 517.7 C1102.3 519.8 1110.4 521.8 1118.5 523.4 C1126.6 525.1 1134.7 526.5 1142.8 527.6 C1150.9 528.6 1159.0 529.3 1167.1 529.7 C1175.2 530.1 1183.3 530.2 1191.4 530.0 C1199.5 529.7 1207.6 529.3 1215.7 528.4 C1223.7 527.4 1231.8 526.1 1239.9 524.2 C1248.0 522.4 1256.1 520.0 1264.2 517.2 C1272.3 514.4 1280.4 511.0 1288.5 507.5 C1296.6 504.1 1304.7 500.1 1312.8 496.3 C1320.9 492.5 1329.0 488.5 1337.1 484.9 C1345.2 481.4 1353.2 477.9 1361.3 475.0 C1369.4 472.0 1377.5 468.4 1385.6 467.1 C1393.7 465.7 1401.8 466.5 1409.9 466.8 C1418.0 467.0 1426.1 467.5 1434.2 468.5 C1442.3 469.6 1450.4 471.2 1458.5 473.2 C1466.6 475.1 1474.7 477.7 1482.7 480.4 C1490.8 483.1 1498.9 486.3 1507.0 489.5 C1515.1 492.6 1523.2 495.9 1531.3 499.3 C1539.4 502.8 1547.5 506.3 1555.6 510.0 C1563.7 513.8 1571.8 517.8 1579.9 521.7 C1588.0 525.6 1596.1 529.6 1604.2 533.5 C1612.2 537.4 1620.3 541.3 1628.4 545.2 C1636.5 549.1 1644.6 553.0 1652.7 556.8 C1660.8 560.7 1668.9 564.6 1677.0 568.3 C1685.1 572.1 1693.2 575.8 1701.3 579.6 C1709.4 583.4 1717.5 587.1 1725.6 591.0 C1733.7 594.9 1741.7 598.9 1749.8 602.8 C1757.9 606.8 1774.1 614.6 1774.1 614.6" stroke="#bf00bf" stroke-width="5.6" stroke-opacity="0.33" stroke-linecap="square"/>
<path d="M241.9 296.5 L244.4 296.5 C244.4 296.5 260.6 288.7 268.7 284.9 C276.8 281.1 284.9 277.1 293.0 273.4 C301.1 269.8 309.1 266.2 317.2 263.1 C325.3 259.9 333.4 257.1 341.5 254.7 C349.6 252.3 357.7 250.4 365.8 248.8 C373.9 247.1 382.0 245.9 390.1 244.8 C398.2 243.8 406.3 243.0 414.4 242.6 C422.5 242.3 430.6 242.2 438.6 242.6 C446.7 243.1 454.8 244.1 462.9 245.3 C471.0 246.6 479.1 248.3 487.2 250.1 C495.3 251.9 503.4 254.1 511.5 256.3 C519.6 258.5 527.7 260.9 535.8 263.5 C543.9 266.0 552.0 268.5 560.1 271.4 C568.1 274.3 576.2 277.2 584.3 280.7 C592.4 284.1 600.5 288.0 608.6 292.2 C616.7 296.5 624.8 301.3 632.9 306.1 C641.0 310.8 649.1 315.8 657.2 320.6 C665.3 325.5 673.4 330.4 681.5 335.2 C689.6 340.0 697.6 344.8 705.7 349.3 C713.8 353.9 721.9 358.2 730.0 362.6 C738.1 366.9 746.2 371.1 754.3 375.4 C762.4 379.7 770.5 383.9 778.6 388.2 C786.7 392.5 794.8 396.8 802.9 401.0 C811.0 405.2 819.1 409.4 827.1 413.4 C835.2 417.5 843.3 421.5 851.4 425.3 C859.5 429.1 867.6 432.9 875.7 436.4 C883.8 439.9 891.9 443.2 900.0 446.4 C908.1 449.6 916.2 452.6 924.3 455.7 C932.4 458.8 940.5 461.8 948.6 465.1 C956.6 468.4 964.7 472.0 972.8 475.5 C980.9 479.0 989.0 482.6 997.1 485.9 C1005.2 489.1 1013.3 491.9 1021.4 494.8 C1029.5 497.6 1037.6 500.3 1045.7 503.0 C1053.8 505.7 1061.9 508.4 1070.0 510.8 C1078.1 513.3 1086.2 515.6 1094.2 517.7 C1102.3 519.8 1110.4 521.8 1118.5 523.4 C1126.6 525.1 1134.7 526.5 1142.8 527.6 C1150.9 528.6 1159.0 529.3 1167.1 529.7 C1175.2 530.1 1183.3 530.2 1191.4 530.0 C1199.5 529.7 1207.6 529.3 1215.7 528.4 C1223.7 527.4 1231.8 526.1 1239.9 524.2 C1248.0 522.4 1256.1 520.0 1264.2 517.2 C1272.3 514.4 1280.4 511.0 1288.5 507.5 C1296.6 504.1 1304.7 500.1 1312.8 496.3 C1320.9 492.5 1329.0 488.5 1337.1 484.9 C1345.2 481.4 1353.2 477.9 1361.3 475.0 C1369.4 472.0 1377.5 468.4 1385.6 467.1 C1393.7 465.7 1401.8 466.5 1409.9 466.8 C1418.0 467.0 1426.1 467.5 1434.2 468.5 C1442.3 469.6 1450.4 471.2 1458.5 473.2 C1466.6 475.1 1474.7 477.7 1482.7 480.4 C1490.8 483.1 1498.9 486.3 1507.0 489.5 C1515.1 492.6 1523.2 495.9 1531.3 499.3 C1539.4 502.8 1547.5 506.3 1555.6 510.0 C1563.7 513.8 1571.8 517.8 1579.9 521.7 C1588.0 525.6 1596.1 529.6 1604.2 533.5 C1612.2 537.4 1620.3 541.3 1628.4 545.2 C1636.5 549.1 1644.6 553.0 1652.7 556.8 C1660.8 560.7 1668.9 564.6 1677.0 568.3 C1685.1 572.1 1693.2 575.8 1701.3 579.6 C1709.4 583.4 1717.5 587.1 1725.6 591.0 C1733.7 594.9 1741.7 598.9 1749.8 602.8 C1757.9 606.8 1774.1 614.6 1774.1 614.6" stroke="#bf00bf" stroke-width="2.9" stroke-linecap="square"/>
<path d="M244.4 297.0 L268.7 292.4 L293.0 284.8 L317.2 274.4 L341.5 262.8 L365.8 250.9 L390.1 246.0 L414.4 242.8 L438.6 242.8 L462.9 246.4 L487.2 252.0 L511.5 257.8 L535.8 263.7 L560.1 271.1 L584.3 280.3 L608.6 290.0 L632.9 305.8 L657.2 320.8 L681.5 335.6 L705.7 349.8 L730.0 362.9 L754.3 375.5 L778.6 388.2 L802.9 401.1 L827.1 413.8 L851.4 425.7 L875.7 436.7 L900.0 446.5 L924.3 455.7 L948.6 465.2 L972.8 476.3 L997.1 488.8 L1021.4 510.1 L1045.7 509.3 L1070.0 511.1 L1094.2 516.3 L1118.5 523.5 L1142.8 531.2 L1167.1 538.6 L1191.4 539.7 L1215.7 537.5 L1239.9 531.8 L1264.2 523.6 L1288.5 513.8 L1312.8 503.6 L1337.1 494.0 L1361.3 478.4 L1385.6 471.0 L1409.9 465.3 L1434.2 461.1 L1458.5 465.5 L1482.7 471.4 L1507.0 479.2 L1531.3 488.5 L1555.6 498.5 L1579.9 508.2 L1604.2 517.4 L1628.4 527.5 L1652.7 539.2 L1677.0 552.5 L1701.3 567.0 L1725.6 580.9 L1749.8 592.8 L1774.1 597.0" stroke="#bf00bf" stroke-width="5.4" stroke-opacity="0.33" stroke-dasharray="14.4 6.2" stroke-linecap="butt"/>
<path d="M244.4 297.0 L268.7 292.4 L293.0 284.8 L317.2 274.4 L341.5 262.8 L365.8 250.9 L390.1 246.0 L414.4 242.8 L438.6 242.8 L462.9 246.4 L487.2 252.0 L511.5 257.8 L535.8 263.7 L560.1 271.1 L584.3 280.3 L608.6 290.0 L632.9 305.8 L657.2 320.8 L681.5 335.6 L705.7 349.8 L730.0 362.9 L754.3 375.5 L778.6 388.2 L802.9 401.1 L827.1 413.8 L851.4 425.7 L875.7 436.7 L900.0 446.5 L924.3 455.7 L948.6 465.2 L972.8 476.3 L997.1 488.8 L1021.4 510.1 L1045.7 509.3 L1070.0 511.1 L1094.2 516.3 L1118.5 523.5 L1142.8 531.2 L1167.1 538.6 L1191.4 539.7 L1215.7 537.5 L1239.9 531.8 L1264.2 523.6 L1288.5 513.8 L1312.8 503.6 L1337.1 494.0 L1361.3 478.4 L1385.6 471.0 L1409.9 465.3 L1434.2 461.1 L1458.5 465.5 L1482.7 471.4 L1507.0 479.2 L1531.3 488.5 L1555.6 498.5 L1579.9 508.2 L1604.2 517.4 L1628.4 527.5 L1652.7 539.2 L1677.0 552.5 L1701.3 567.0 L1725.6 580.9 L1749.8 592.8 L1774.1 597.0" stroke="#bf00bf" stroke-width="2.8" stroke-dasharray="14.4 6.2" stroke-linecap="butt"/>
<g stroke="#bf00bf">
<use href="#mx" x="244.4" y="297.0"/>
<use href="#mx" x="268.7" y="292.4"/>
<use href="#mx" x="293.0" y="284.8"/>
<use href="#mx" x="317.2" y="274.4"/>
<use href="#mx" x="341.5" y="262.8"/>
<use href="#mx" x="365.8" y="250.9"/>
<use href="#mx" x="390.1" y="246.0"/>
<use href="#mx" x="414.4" y="242.8"/>
<use href="#mx" x="438.6" y="242.8"/>
<use href="#mx" x="462.9" y="246.4"/>
<use href="#mx" x="487.2" y="252.0"/>
<use href="#mx" x="511.5" y="257.8"/>
<use href="#mx" x="535.8" y="263.7"/>
<use href="#mx" x="560.1" y="271.1"/>
<use href="#mx" x="584.3" y="280.3"/>
<use href="#mx" x="608.6" y="290.0"/>
<use href="#mx" x="632.9" y="305.8"/>
<use href="#mx" x="657.2" y="320.8"/>
<use href="#mx" x="681.5" y="335.6"/>
<use href="#mx" x="705.7" y="349.8"/>
<use href="#mx" x="730.0" y="362.9"/>
<use href="#mx" x="754.3" y="375.5"/>
<use href="#mx" x="778.6" y="388.2"/>
<use href="#mx" x="802.9" y="401.1"/>
<use href="#mx" x="827.1" y="413.8"/>
<use href="#mx" x="851.4" y="425.7"/>
<use href="#mx" x="875.7" y="436.7"/>
<use href="#mx" x="900.0" y="446.5"/>
<use href="#mx" x="924.3" y="455.7"/>
<use href="#mx" x="948.6" y="465.2"/>
<use href="#mx" x="972.8" y="476.3"/>
<use href="#mx" x="997.1" y="488.8"/>
<use href="#mx" x="1021.4" y="510.1"/>
<use href="#mx" x="1045.7" y="509.3"/>
<use href="#mx" x="1070.0" y="511.1"/>
<use href="#mx" x="1094.2" y="516.3"/>
<use href="#mx" x="1118.5" y="523.5"/>
<use href="#mx" x="1142.8" y="531.2"/>
<use href="#mx" x="1167.1" y="538.6"/>
<use href="#mx" x="1191.4" y="539.7"/>
<use href="#mx" x="1215.7" y="537.5"/>
<use href="#mx" x="1239.9" y="531.8"/>
<use href="#mx" x="1264.2" y="523.6"/>
<use href="#mx" x="1288.5" y="513.8"/>
<use href="#mx" x="1312.8" y="503.6"/>
<use href="#mx" x="1337.1" y="494.0"/>
<use href="#mx" x="1361.3" y="478.4"/>
<use href="#mx" x="1385.6" y="471.0"/>
<use href="#mx" x="1409.9" y="465.3"/>
<use href="#mx" x="1434.2" y="461.1"/>
<use href="#mx" x="1458.5" y="465.5"/>
<use href="#mx" x="1482.7" y="471.4"/>
<use href="#mx" x="1507.0" y="479.2"/>
<use href="#mx" x="1531.3" y="488.5"/>
<use href="#mx" x="1555.6" y="498.5"/>
<use href="#mx" x="1579.9" y="508.2"/>
<use href="#mx" x="1604.2" y="517.4"/>
<use href="#mx" x="1628.4" y="527.5"/>
<use href="#mx" x="1652.7" y="539.2"/>
<use href="#mx" x="1677.0" y="552.5"/>
<use href="#mx" x="1701.3" y="567.0"/>
<use href="#mx" x="1725.6" y="580.9"/>
<use href="#mx" x="1749.8" y="592.8"/>
<use href="#mx" x="1774.1" y="597.0"/>
</g>
</g>
<rect x="166.9" y="28.7" width="1684.1" height="958.3" fill="none" stroke="#000" stroke-width="2.1" stroke-linejoin="miter"/>
<g font-size="47.0" fill="#000" stroke="#fff" stroke-width="0" text-anchor="middle">
<text x="243.32" y="1039.5">0.0</text>
<text x="553.45" y="1039.5">0.2</text>
<text x="865.32" y="1039.5">0.4</text>
<text x="1175.45" y="1039.5">0.6</text>
<text x="1487.32" y="1039.5">0.8</text>
<text x="1797.40" y="1039.5">1.0</text>
</g>
<g font-size="47.0" fill="#000" stroke="#fff" stroke-width="0" text-anchor="end">
<text x="148.0" y="914.60">0.6</text>
<text x="148.0" y="769.20">0.8</text>
<text x="148.0" y="623.55">1.0</text>
<text x="148.0" y="478.10">1.2</text>
<text x="148.0" y="332.40">1.4</text>
<text x="148.0" y="188.60">1.6</text>
</g>
<text x="1010.3" y="1094.8" font-size="47.0" fill="#000" stroke="#fff" stroke-width="0" text-anchor="middle">y</text>
<text transform="translate(47.0 509.5) rotate(-90)" font-size="47.5" font-family="DejaVu Sans Light, DejaVu Sans, sans-serif" font-weight="200" font-style="italic" fill="#000" stroke="#000" stroke-width="0.7" text-anchor="middle">ρ</text>
<rect x="666.3" y="47.6" width="685.8" height="281.29999999999995" rx="7.4" ry="7.4" fill="#ffffff" stroke="#cccccc" stroke-width="2.0" opacity="0.8"/>
<line x1="680.0" y1="76.70" x2="754.2" y2="76.70" stroke="#000000" stroke-width="5.6" stroke-opacity="0.33" stroke-linecap="square"/>
<line x1="680.0" y1="76.70" x2="754.2" y2="76.70" stroke="#000000" stroke-width="3.3" stroke-linecap="square"/>
<text x="784.0" y="89.70" font-size="36.8" fill="#000" stroke="#fff" stroke-width="0">t=0</text>
<line x1="680.0" y1="129.80" x2="754.2" y2="129.80" stroke="#ff0000" stroke-width="5.6" stroke-opacity="0.33" stroke-linecap="square"/>
<line x1="680.0" y1="129.80" x2="754.2" y2="129.80" stroke="#ff0000" stroke-width="3.3" stroke-linecap="square"/>
<text x="784.0" y="142.80" font-size="36.8" fill="#000" stroke="#fff" stroke-width="0">t=2.5, FD</text>
<line x1="680.0" y1="184.60" x2="754.2" y2="184.60" stroke="#ff0000" stroke-width="5.6" stroke-opacity="0.33" stroke-dasharray="14.4 6.2"/>
<line x1="680.0" y1="184.60" x2="754.2" y2="184.60" stroke="#ff0000" stroke-width="3.3" stroke-dasharray="14.4 6.2"/>
<use href="#mx" x="717.10" y="184.60" stroke="#ff0000"/>
<text x="784.0" y="197.60" font-size="36.8" fill="#000" stroke="#fff" stroke-width="0">t=2.5, FG</text>
<line x1="680.0" y1="239.00" x2="754.2" y2="239.00" stroke="#0000ff" stroke-width="5.6" stroke-opacity="0.33" stroke-linecap="square"/>
<line x1="680.0" y1="239.00" x2="754.2" y2="239.00" stroke="#0000ff" stroke-width="3.3" stroke-linecap="square"/>
<text x="784.0" y="252.00" font-size="36.8" fill="#000" stroke="#fff" stroke-width="0">t=5.0, FD</text>
<line x1="680.0" y1="293.80" x2="754.2" y2="293.80" stroke="#0000ff" stroke-width="5.6" stroke-opacity="0.33" stroke-dasharray="14.4 6.2"/>
<line x1="680.0" y1="293.80" x2="754.2" y2="293.80" stroke="#0000ff" stroke-width="3.3" stroke-dasharray="14.4 6.2"/>
<use href="#mx" x="717.10" y="293.80" stroke="#0000ff"/>
<text x="784.0" y="306.80" font-size="36.8" fill="#000" stroke="#fff" stroke-width="0">t=5.0, FG</text>
<line x1="1033.8" y1="76.70" x2="1108.0" y2="76.70" stroke="#00bfbf" stroke-width="5.6" stroke-opacity="0.33" stroke-linecap="square"/>
<line x1="1033.8" y1="76.70" x2="1108.0" y2="76.70" stroke="#00bfbf" stroke-width="3.3" stroke-linecap="square"/>
<text x="1136.5" y="89.70" font-size="36.8" fill="#000" stroke="#fff" stroke-width="0">t=7.5, FD</text>
<line x1="1033.8" y1="129.80" x2="1108.0" y2="129.80" stroke="#00bfbf" stroke-width="5.6" stroke-opacity="0.33" stroke-dasharray="14.4 6.2"/>
<line x1="1033.8" y1="129.80" x2="1108.0" y2="129.80" stroke="#00bfbf" stroke-width="3.3" stroke-dasharray="14.4 6.2"/>
<use href="#mx" x="1070.90" y="129.80" stroke="#00bfbf"/>
<text x="1136.5" y="142.80" font-size="36.8" fill="#000" stroke="#fff" stroke-width="0">t=7.5, FG</text>
<line x1="1033.8" y1="184.60" x2="1108.0" y2="184.60" stroke="#bf00bf" stroke-width="5.6" stroke-opacity="0.33" stroke-linecap="square"/>
<line x1="1033.8" y1="184.60" x2="1108.0" y2="184.60" stroke="#bf00bf" stroke-width="3.3" stroke-linecap="square"/>
<text x="1136.5" y="197.60" font-size="36.8" fill="#000" stroke="#fff" stroke-width="0">t=10.0, FD</text>
<line x1="1033.8" y1="239.00" x2="1108.0" y2="239.00" stroke="#bf00bf" stroke-width="5.6" stroke-opacity="0.33" stroke-dasharray="14.4 6.2"/>
<line x1="1033.8" y1="239.00" x2="1108.0" y2="239.00" stroke="#bf00bf" stroke-width="3.3" stroke-dasharray="14.4 6.2"/>
<use href="#mx" x="1070.90" y="239.00" stroke="#bf00bf"/>
<text x="1136.5" y="252.00" font-size="36.8" fill="#000" stroke="#fff" stroke-width="0">t=10.0, FG</text>
</svg>
</body></html>
